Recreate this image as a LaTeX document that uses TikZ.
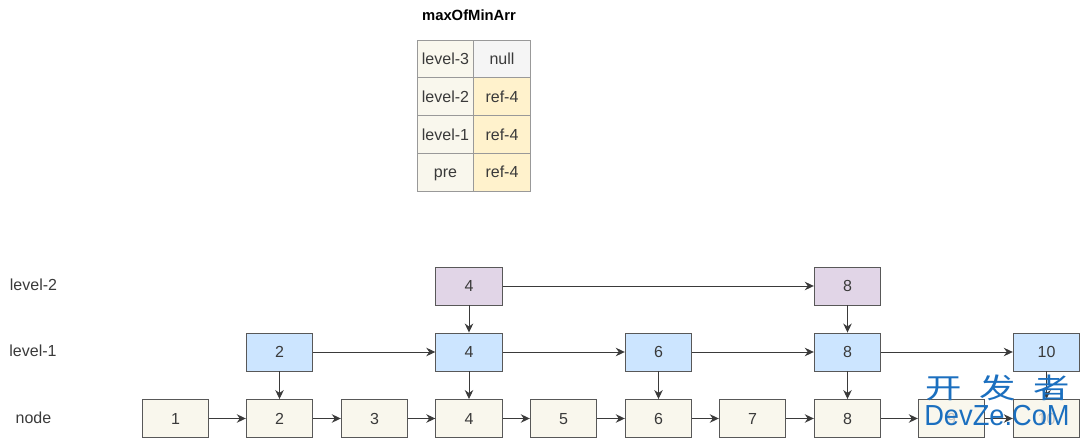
\documentclass[tikz,border=0pt]{standalone}
\usepackage{fontspec}
\setmainfont{Liberation Sans}
\newfontfamily\cjkwm{Noto Sans CJK SC}
\usetikzlibrary{arrows.meta}
\definecolor{cream}{HTML}{F9F7ED}
\definecolor{bluef}{HTML}{CCE5FF}
\definecolor{purplef}{HTML}{E1D5E7}
\definecolor{yellowf}{HTML}{FFF2CC}
\definecolor{greyf}{HTML}{F5F5F5}
\definecolor{ink}{HTML}{3A3A3A}
\definecolor{wm}{HTML}{1B6FBF}
\tikzset{
  box/.style={draw=ink!85,line width=0.9pt,minimum width=66.5pt,minimum height=38pt,inner sep=0pt,text=ink,text height=11.5pt,text depth=0pt,font=\fontsize{16}{16}\selectfont},
  nodebox/.style={box,fill=cream},
  l1box/.style={box,fill=bluef},
  l2box/.style={box,fill=purplef},
  cell/.style={draw=black!40,line width=0.8pt,minimum width=56.5pt,minimum height=37.75pt,inner sep=0pt,text=ink,text height=11.5pt,text depth=0pt,font=\fontsize{16}{16}\selectfont},
  lab/.style={inner sep=0pt,text=ink,text height=11.5pt,text depth=0pt,font=\fontsize{16}{16}\selectfont},
  conn/.style={draw=ink,line width=0.9pt,-{Stealth[length=9pt,width=8.5pt]}},
  wmark/.style={inner sep=0pt,text=wm,transform shape}
}
\begin{document}
\begin{tikzpicture}[x=1pt,y=-1pt]
\useasboundingbox (0,0) rectangle (1080,438);
% table
\node[inner sep=0pt,font=\bfseries\fontsize{14.8}{14.8}\selectfont] (title) at (469,15) {maxOfMinArr};
\node[cell,fill=cream] (a1) at (445.5,59) {level-3};
\node[cell,fill=greyf] (b1) at (502,59) {null};
\node[cell,fill=cream] (a2) at (445.5,96.75) {level-2};
\node[cell,fill=yellowf] (b2) at (502,96.75) {ref-4};
\node[cell,fill=cream] (a3) at (445.5,134.5) {level-1};
\node[cell,fill=yellowf] (b3) at (502,134.5) {ref-4};
\node[cell,fill=cream] (a4) at (445.5,172.25) {pre};
\node[cell,fill=yellowf] (b4) at (502,172.25) {ref-4};
% row labels
\node[lab] (ll2) at (33.5,285) {level-2};
\node[lab] (ll1) at (33,351) {level-1};
\node[lab] (lnode) at (33.5,418) {node};
% bottom row
\node[nodebox] (n1) at (175.5,418.5) {1};
\node[nodebox] (n2) at (279.5,418.5) {2};
\node[nodebox] (n3) at (374.5,418.5) {3};
\node[nodebox] (n4) at (469,418.5) {4};
\node[nodebox] (n5) at (563.5,418.5) {5};
\node[nodebox] (n6) at (658.5,418.5) {6};
\node[nodebox] (n7) at (752.5,418.5) {7};
\node[nodebox] (n8) at (847.5,418.5) {8};
\node[nodebox,text=ink!30] (n9) at (951.5,418.5) {9};
\node[nodebox,text=ink!30] (n10) at (1046.5,418.5) {10};
% level-1
\node[l1box] (a2b) at (279.5,352) {2};
\node[l1box] (a4b) at (469,352) {4};
\node[l1box] (a6b) at (658.5,352) {6};
\node[l1box] (a8b) at (847.5,352) {8};
\node[l1box] (a10b) at (1046.5,352) {10};
% level-2
\node[l2box] (t4) at (469,286) {4};
\node[l2box] (t8) at (847.5,286) {8};
% connectors
\foreach \s/\t in {n1/n2,n2/n3,n3/n4,n4/n5,n5/n6,n6/n7,n7/n8,n8/n9,n9/n10,
  a2b/a4b,a4b/a6b,a6b/a8b,a8b/a10b,t4/t8,
  t4/a4b,t8/a8b,a2b/n2,a4b/n4,a6b/n6,a8b/n8,a10b/n10}
  \draw[conn] (\s) -- (\t);
% watermark
\node[wmark,xscale=1.3,font=\cjkwm\fontsize{28}{28}\selectfont] (wm1) at (997.5,388) {开\hspace{13.5pt}发\hspace{13.5pt}者};
\node[wmark,xscale=0.94,font=\fontsize{29}{29}\selectfont] (wm2) at (997,416) {DevZe.CoM};
\end{tikzpicture}
\end{document}
